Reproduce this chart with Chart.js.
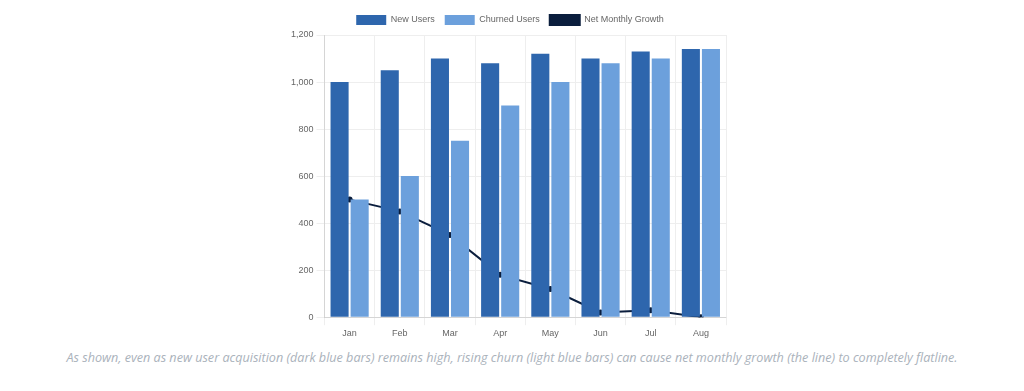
<!DOCTYPE html>
<html>
<head>
<meta charset="utf-8">
<script src="https://cdn.jsdelivr.net/npm/chart.js@4"></script>
<style>
  body { margin: 0; background: #fff; font-family: "Open Sans", Arial, sans-serif; }
  #wrap { position: absolute; left: 288px; top: 5px; width: 444px; height: 337px; }
  #caption { position: absolute; left: 0; top: 349px; width: 1024px; text-align: center;
    font-style: italic; font-size: 12.6px; color: #aab2bb; }
</style>
</head>
<body>
<div id="wrap"><canvas id="growth-chart"></canvas></div>
<div id="caption">As shown, even as new user acquisition (dark blue bars) remains high, rising churn (light blue bars) can cause net monthly growth (the line) to completely flatline.</div>
<script>
// chart data
const months = ['Jan', 'Feb', 'Mar', 'Apr', 'May', 'Jun', 'Jul', 'Aug'];
const newUsers = [1000, 1050, 1100, 1080, 1120, 1100, 1130, 1140];
const churnedUsers = [500, 600, 750, 900, 1000, 1080, 1100, 1140];
const netGrowth = [500, 450, 350, 180, 120, 20, 30, 0];

// colors
let darkBlue = '#2E66AD';
let lightBlue = '#6CA0DC';
let navy = '#0B1E3D';

Chart.defaults.font.family = '"Liberation Sans", Arial, sans-serif';

const growthChart = new Chart(document.getElementById('growth-chart'), {
  type: 'bar',
  data: {
    labels: months,
    datasets: [
      { label: 'New Users', data: newUsers, backgroundColor: darkBlue, order: 1 },
      { label: 'Churned Users', data: churnedUsers, backgroundColor: lightBlue, order: 2 },
      {
        type: 'line', label: 'Net Monthly Growth', data: netGrowth,
        borderColor: navy, backgroundColor: navy, borderWidth: 2,
        pointRadius: 2, tension: 0, order: 3
      }
    ]
  },
  options: {
    responsive: true,
    maintainAspectRatio: false,
    animation: false,
    plugins: {
      legend: {
        labels: { boxWidth: 30, boxHeight: 10, font: { size: 9 }, color: '#666' }
      },
      tooltip: { enabled: false }
    },
    scales: {
      x: {
        grid: { color: '#eeeeee' },
        ticks: { font: { size: 9 }, color: '#666' }
      },
      y: {
        min: 0, max: 1200,
        ticks: { stepSize: 200, font: { size: 9 }, color: '#666' },
        grid: { color: '#eeeeee' }
      }
    }
  }
});
</script>
</body>
</html>
